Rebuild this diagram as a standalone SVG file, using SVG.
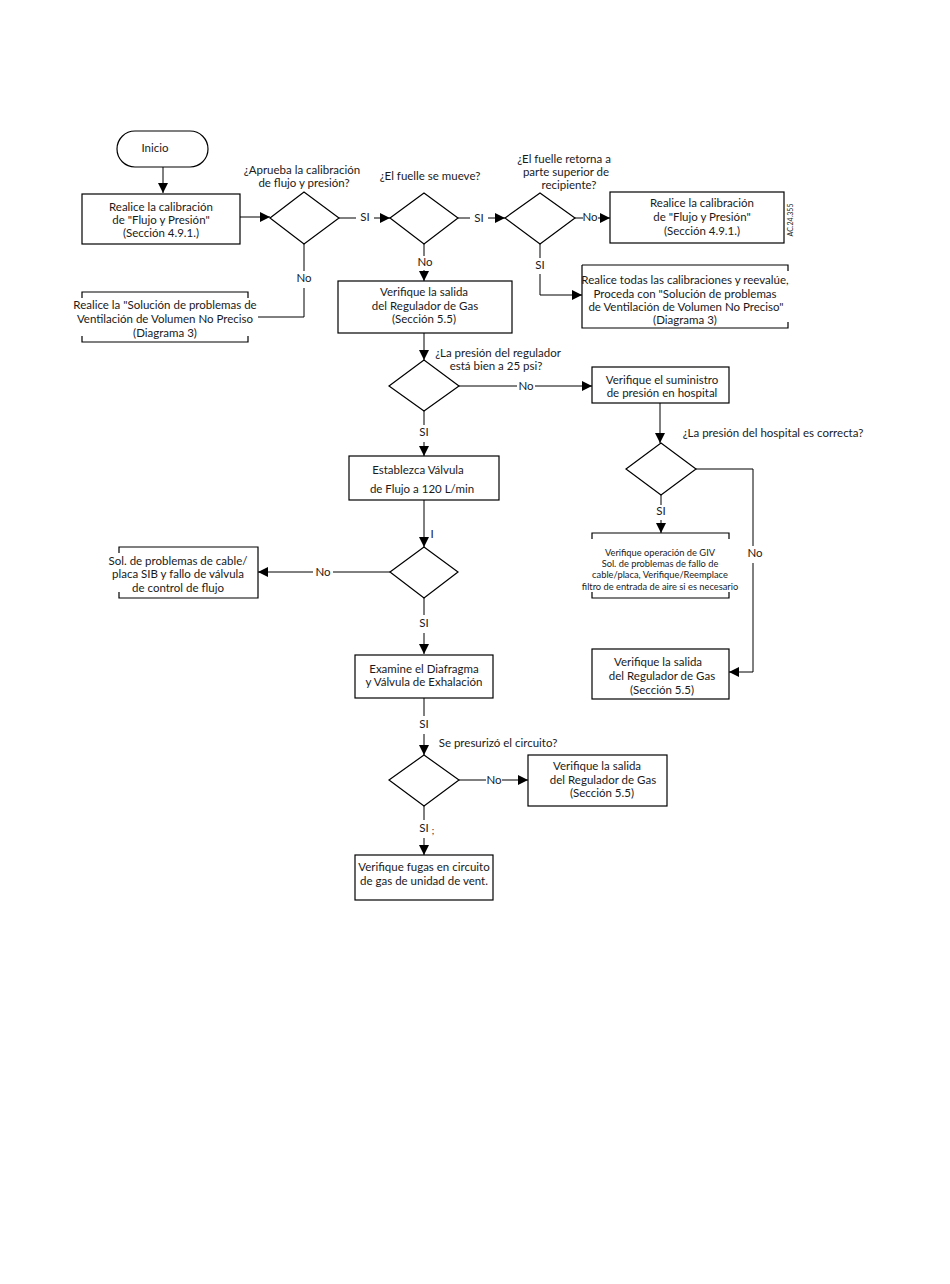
<svg xmlns="http://www.w3.org/2000/svg" width="950" height="1284" viewBox="0 0 950 1284">
<style>
text{font-family:Lato,"Liberation Sans",sans-serif;font-size:11.5px;fill:#1a1a1a;text-anchor:middle}
.s{font-size:9.3px}
.shape{fill:none;stroke:#000;stroke-width:1.2}
.c{fill:none;stroke:#000;stroke-width:1}
.a{marker-end:url(#arr)}
</style>
<defs>
<marker id="arr" markerUnits="userSpaceOnUse" markerWidth="10" markerHeight="10" viewBox="0 0 10 10" refX="10" refY="5" orient="auto">
<path d="M0,0 L10,5 L0,10 Z" fill="#000"/>
</marker>
</defs>
<rect width="950" height="1284" fill="#fff"/>

<g id="connectors">
<path class="c a" d="M163,167 V193"/>
<path class="c a" d="M240,217 H270"/>
<path class="c" d="M339,218 H356"/><text x="365" y="221">SI</text><path class="c a" d="M374,218 H390"/>
<path class="c" d="M458,218 H470"/><text x="479" y="222">SI</text><path class="c a" d="M488,218 H505"/>
<path class="c" d="M575,218 H583"/><text x="590" y="221">No</text><path class="c a" d="M598,218 H610"/>
<path class="c" d="M540,244 V258"/><text x="540" y="269">SI</text><path class="c a" d="M540,274 V295 H582"/>
<path class="c" d="M304,244 V271"/><text x="304" y="282">No</text><path class="c" d="M304,288 V317 H258"/>
<path class="c" d="M424,244 V256"/><text x="425" y="266">No</text><path class="c a" d="M424,270 V281"/>
<path class="c a" d="M424,333 V360"/>
<path class="c" d="M459,386 H517"/><text x="526" y="390">No</text><path class="c a" d="M535,386 H592"/>
<path class="c" d="M424,411 V425"/><text x="424" y="436">SI</text><path class="c a" d="M424,442 V456"/>
<path class="c a" d="M660,403 V443"/>
<path class="c" d="M661,495 V505"/><text x="661" y="515">SI</text><path class="c a" d="M661,520 V533"/>
<path class="c" d="M696,469 H753 V546"/><text x="755" y="557">No</text><path class="c a" d="M753,563 V672 H729"/>
<path class="c a" d="M424,500 V547"/><text x="432" y="538">I</text>
<path class="c" d="M390,572 H333"/><text x="323" y="576">No</text><path class="c a" d="M313,572 H258"/>
<path class="c" d="M424,598 V615"/><text x="424" y="627">SI</text><path class="c a" d="M424,633 V654"/>
<path class="c" d="M424,698 V716"/><text x="424" y="728">SI</text><path class="c a" d="M424,734 V755"/>
<path class="c" d="M459,780 H486"/><text x="494" y="784">No</text><path class="c a" d="M502,780 H528"/>
<path class="c" d="M424,806 V820"/><text x="424" y="832">SI</text><text x="433" y="834" class="s">;</text><path class="c a" d="M424,838 V855"/>
</g>

<g id="inicio">
<rect class="shape" x="117" y="131" width="91" height="36" rx="18"/>
<text x="155" y="152">Inicio</text>
</g>

<g id="box1">
<rect class="shape" x="82" y="194" width="158" height="50"/>
<text x="161" y="211">Realice la calibración</text>
<text x="161" y="224">de "Flujo y Presión"</text>
<text x="161" y="237">(Sección 4.9.1.)</text>
</g>

<g id="d1">
<path class="shape" d="M270,218 L304,192 L339,218 L304,244 Z"/>
<text x="302" y="174">¿Aprueba la calibración</text>
<text x="304" y="187">de flujo y presión?</text>
</g>

<g id="box2">
<path class="shape" d="M82,298 V292 H248 V298 M82,336 V342 H248 V336"/>
<text x="165" y="309">Realice la "Solución de problemas de</text>
<text x="165" y="323">Ventilación de Volumen No Preciso</text>
<text x="165" y="337">(Diagrama 3)</text>
</g>

<g id="d2">
<path class="shape" d="M390,218 L424,193 L458,218 L424,244 Z"/>
<text x="430" y="180">¿El fuelle se mueve?</text>
</g>

<g id="d3">
<path class="shape" d="M505,218 L540,193 L575,218 L540,244 Z"/>
<text x="564" y="163">¿El fuelle retorna a</text>
<text x="566" y="176">parte superior de</text>
<text x="569" y="189">recipiente?</text>
</g>

<g id="box3">
<rect class="shape" x="610" y="192" width="174" height="51"/>
<text x="702" y="207">Realice la calibración</text>
<text x="702" y="221">de "Flujo y Presión"</text>
<text x="702" y="235">(Sección 4.9.1.)</text>
<text class="s" transform="translate(793,220) rotate(-90)" style="font-size:7px">AC.24.355</text>
</g>

<g id="box4">
<path class="shape" d="M582,265 H788 V271 M582,265 V328 H788 V322"/>
<text x="685" y="284">Realice todas las calibraciones y reevalúe,</text>
<text x="685" y="298">Proceda con "Solución de problemas</text>
<text x="686" y="311">de Ventilación de Volumen No Preciso"</text>
<text x="685" y="324">(Diagrama 3)</text>
</g>

<g id="box5">
<rect class="shape" x="338" y="281" width="174" height="52"/>
<text x="424" y="296">Verifique la salida</text>
<text x="425" y="310">del Regulador de Gas</text>
<text x="424" y="323">(Sección 5.5)</text>
</g>

<g id="d4">
<path class="shape" d="M389,386 L424,360 L459,386 L424,411 Z"/>
<text x="498" y="357">¿La presión del regulador</text>
<text x="496" y="370">está bien a 25 psi?</text>
</g>

<g id="box6">
<rect class="shape" x="592" y="367" width="137" height="36"/>
<text x="662" y="384">Verifique el suministro</text>
<text x="662" y="397">de presión en hospital</text>
</g>

<g id="d5">
<path class="shape" d="M626,469 L661,443 L696,469 L661,495 Z"/>
<text x="773" y="437">¿La presión del hospital es correcta?</text>
</g>

<g id="box7">
<path class="shape" d="M592,539 V533 H729 V539 M592,592 V598 H729 V592"/>
<text class="s" x="660" y="556">Verifique operación de GIV</text>
<text class="s" x="660" y="567">Sol. de problemas de fallo de</text>
<text class="s" x="660" y="578">cable/placa, Verifique/Reemplace</text>
<text class="s" x="660" y="590">filtro de entrada de aire si es necesario</text>
</g>

<g id="box8">
<rect class="shape" x="592" y="649" width="137" height="50"/>
<text x="658" y="666">Verifique la salida</text>
<text x="662" y="680">del Regulador de Gas</text>
<text x="662" y="694">(Sección 5.5)</text>
</g>

<g id="box-establezca">
<rect class="shape" x="349" y="456" width="150" height="44"/>
<text x="418" y="474">Establezca Válvula</text>
<text x="422" y="493">de Flujo a 120 L/min</text>
</g>

<g id="d6">
<path class="shape" d="M390,572 L424,547 L458,572 L424,598 Z"/>
</g>

<g id="box9">
<path class="shape" d="M119,553 V547 H258 V598 H119 V592"/>
<text x="178" y="565">Sol. de problemas de cable/</text>
<text x="178" y="578">placa SIB y fallo de válvula</text>
<text x="178" y="592">de control de flujo</text>
</g>

<g id="box10">
<rect class="shape" x="355" y="655" width="138" height="43"/>
<text x="424" y="673">Examine el Diafragma</text>
<text x="424" y="686">y Válvula de Exhalación</text>
</g>

<g id="d7">
<path class="shape" d="M389,780 L424,755 L459,780 L424,806 Z"/>
<text x="498" y="747">Se presurizó el circuito?</text>
</g>

<g id="box11">
<rect class="shape" x="528" y="755" width="139" height="51"/>
<text x="597" y="770">Verifique la salida</text>
<text x="603" y="784">del Regulador de Gas</text>
<text x="602" y="797">(Sección 5.5)</text>
</g>

<g id="box12">
<rect class="shape" x="355" y="855" width="138" height="45"/>
<text x="424" y="871">Verifique fugas en circuito</text>
<text x="424" y="885">de gas de unidad de vent.</text>
</g>
</svg>
